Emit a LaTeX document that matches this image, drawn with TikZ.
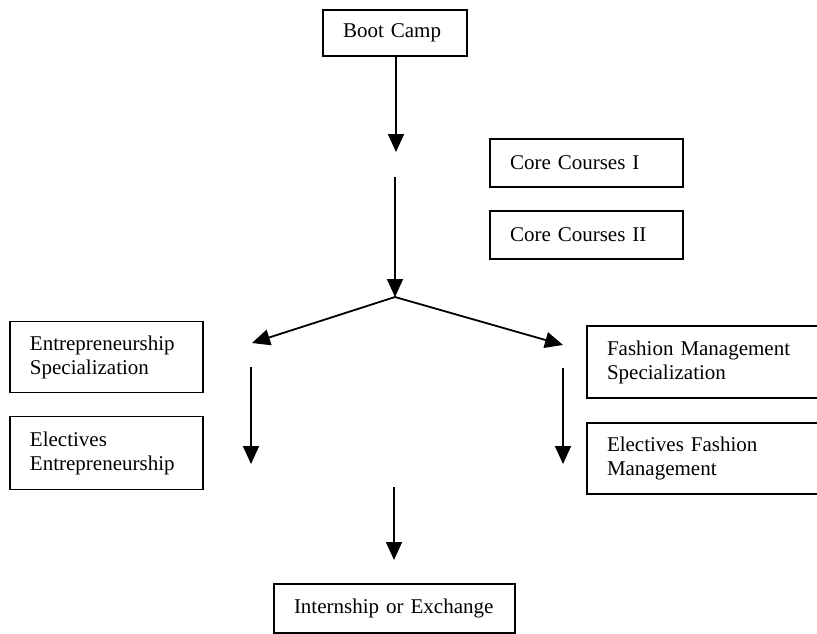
\documentclass[tikz,border=0pt]{standalone}
\usepackage{fontspec}
\setmainfont{Liberation Serif}
\usepackage{tikz}
\usetikzlibrary{arrows.meta,positioning}

\begin{document}
\begin{tikzpicture}[
    x=1pt, y=-1pt,
    stagebox/.style={rectangle, draw=black, line width=1.6pt, align=left, inner xsep=20pt,
                 inner ysep=0pt, font=\fontsize{21}{24}\selectfont},
    arr/.style={-{Triangle[length=18pt,width=16pt]}, line width=1.8pt, black}
]
\useasboundingbox (0,0) rectangle (817,634);

\node[stagebox, text width=104pt, minimum height=46pt] (boot)     at (395,33)    {Boot Camp};
\node[stagebox, text width=153pt, minimum height=48pt] (core1)    at (586.5,163) {Core Courses I};
\node[stagebox, text width=153pt, minimum height=48pt] (core2)    at (586.5,235) {Core Courses II};
\node[stagebox, text width=153pt, minimum height=71pt] (entspec)  at (106.5,357) {Entrepreneurship\\Specialization};
\node[stagebox, text width=153pt, minimum height=73pt] (entelec)  at (106.5,453) {Electives\\Entrepreneurship};
\node[stagebox, text width=215pt, minimum height=72pt] (fashspec) at (714.5,362) {Fashion Management\\Specialization};
\node[stagebox, text width=215pt, minimum height=71pt] (fashelec) at (714.5,458.5) {Electives Fashion\\Management};
\node[stagebox, text width=201pt, minimum height=49pt] (intern)   at (394.5,608.5) {Internship or Exchange};

% free-standing arrows
\coordinate (a1s) at (396,55);   \coordinate (a1e) at (396,152);
\coordinate (a2s) at (395,177);  \coordinate (junc) at (395,297);
\coordinate (lefttip) at (252,343);  \coordinate (righttip) at (563,345);
\coordinate (l2s) at (251,367);  \coordinate (l2e) at (251,464);
\coordinate (r2s) at (563,368);  \coordinate (r2e) at (563,464);
\coordinate (b1s) at (394,487);  \coordinate (b1e) at (394,560);

\draw[arr] (a1s) -- (a1e);
\draw[arr] (a2s) -- (junc);
\draw[arr] (junc) -- (lefttip);
\draw[arr] (junc) -- (righttip);
\draw[arr] (l2s) -- (l2e);
\draw[arr] (r2s) -- (r2e);
\draw[arr] (b1s) -- (b1e);
\end{tikzpicture}
\end{document}
